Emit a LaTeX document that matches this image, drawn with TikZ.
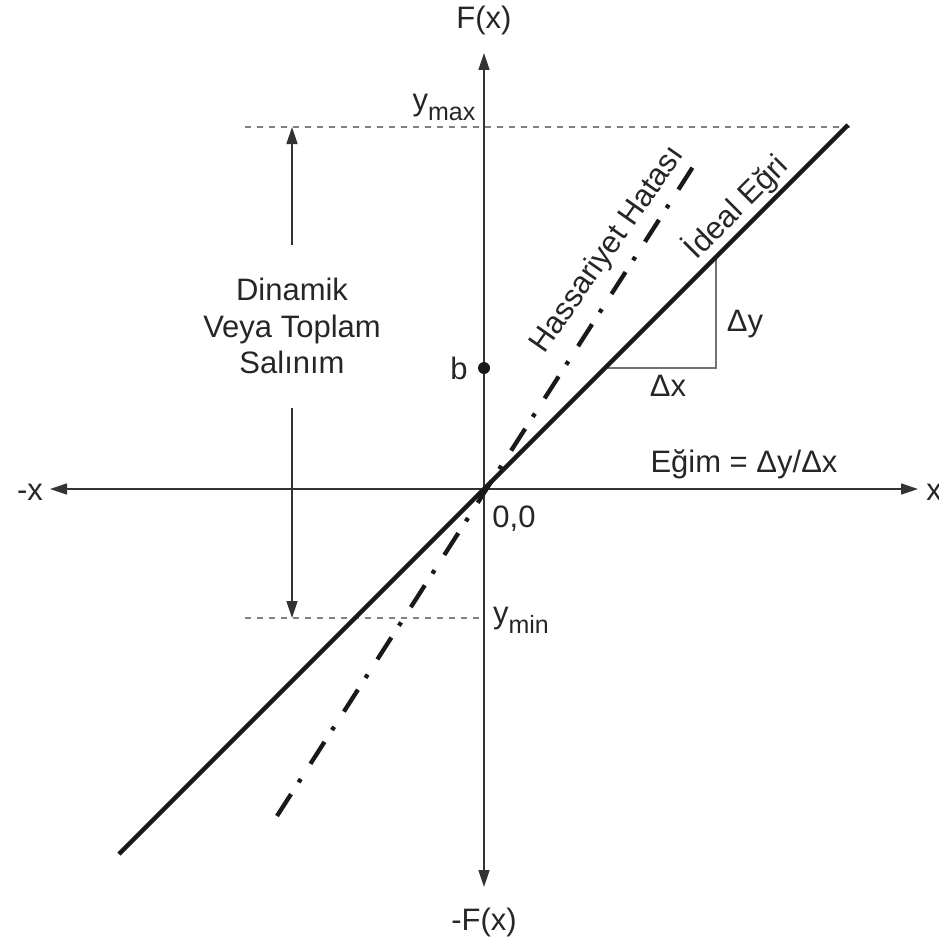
\documentclass[tikz,border=0pt]{standalone}
\usepackage{fontspec}
\setmainfont{Liberation Sans}
\usetikzlibrary{arrows.meta}
\begin{document}
\begin{tikzpicture}[x=1pt,y=-1pt,
  tip/.tip={Triangle[length=17pt,width=11pt]},
  axis/.style={draw=black!80, line width=1.4pt},
  guide/.style={draw=black!50, line width=1.3pt, dash pattern=on 6pt off 6pt},
  thinline/.style={draw=black!55, line width=1.6pt},
  lbl/.style={font=\fontsize{31}{36.7}\selectfont, text=black!85, inner sep=0pt},
  ideal/.style={draw=black!90, line width=4.3pt},
  sens/.style={draw=black!90, line width=4.3pt, dash pattern=on 26pt off 14pt on 4pt off 18pt},
]
\useasboundingbox (0,0) rectangle (939,942);
% coordinates
\coordinate (O) at (484,489);
\coordinate (Ytop) at (484,53);
\coordinate (Ybot) at (484,887);
\coordinate (Xl) at (50,489);
\coordinate (Xr) at (918,489);
\coordinate (Gmax1) at (245,127);
\coordinate (Gmax2) at (850,127);
\coordinate (Gmin1) at (245,618);
\coordinate (Gmin2) at (484,618);
\coordinate (Da1) at (292,245);
\coordinate (Da2) at (292,127);
\coordinate (Db1) at (292,408);
\coordinate (Db2) at (292,618);
\coordinate (I1) at (119,854);
\coordinate (I2) at (848,125);
\coordinate (S1) at (277,816);
\coordinate (S2) at (698,159);
\coordinate (Ta) at (716,257);
\coordinate (Tc) at (716,368);
\coordinate (Tb) at (605,368);
% guides
\draw[guide] (Gmax1) -- (Gmax2);
\draw[guide] (Gmin1) -- (Gmin2);
% axes
\draw[axis, tip-tip] (Ybot) -- (Ytop);
\draw[axis, tip-tip] (Xl) -- (Xr);
% range arrows
\draw[axis, -tip] (Da1) -- (Da2);
\draw[axis, -tip] (Db1) -- (Db2);
% slope triangle
\draw[thinline] (Ta) -- (Tc) -- (Tb);
% curves
\draw[ideal] (I1) -- (I2);
\draw[sens] (S1) -- (S2);
% point b
\node[circle, fill=black!90, inner sep=0pt, minimum size=12pt] (b) at (484,368) {};
% labels
\node[lbl] (fx) at (484,20) {F(x)};
\node[lbl] (mfx) at (484,922) {-F(x)};
\node[lbl] (mx) at (30,492) {-x};
\node[lbl] (px) at (934,492) {x};
\node[lbl] (ymax) at (444,107) {y\raisebox{-10pt}{\fontsize{25}{25}\selectfont max}};
\node[lbl] (ymin) at (521,620) {y\raisebox{-10pt}{\fontsize{25}{25}\selectfont min}};
\node[lbl] (blbl) at (459,368) {b};
\node[lbl] (zero) at (514,519) {0,0};
\node[lbl, align=center] (din) at (292,326) {Dinamik\\Veya Toplam\\Salınım};
\node[lbl] (dy) at (745,324) {Δy};
\node[lbl] (dx) at (668,386) {Δx};
\node[lbl] (egim) at (744,464) {Eğim = Δy/Δx};
\node[lbl, rotate=45] (ideallbl) at (736,207) {İdeal Eğri};
\node[lbl, rotate=55] (senslbl) at (608,250) {Hassariyet Hatası};
\end{tikzpicture}
\end{document}
